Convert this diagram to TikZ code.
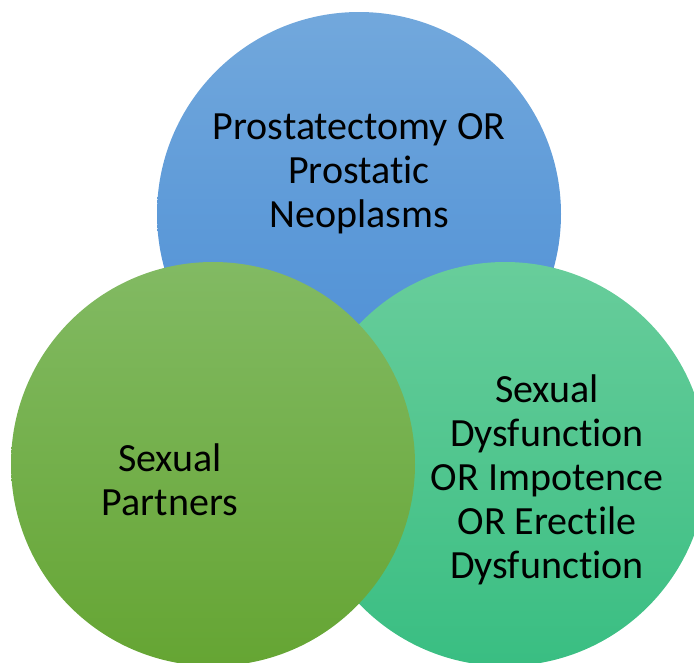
\documentclass[tikz,border=0pt]{standalone}
\usepackage{fontspec}
\setmainfont[Ligatures={NoCommon,NoRare,NoDiscretionary}]{Carlito}
\definecolor{bluetop}{HTML}{72A8DC}
\definecolor{bluebot}{HTML}{4A8DD5}
\definecolor{greentop}{HTML}{82BA63}
\definecolor{greenbot}{HTML}{65A533}
\definecolor{tealtop}{HTML}{68CD9B}
\definecolor{tealbot}{HTML}{39BE82}
\begin{document}
\begin{tikzpicture}[x=1pt,y=-1pt,
  venn/.style={circle,draw=none,inner sep=0pt,minimum size=404pt},
  lbl/.style={align=center,font=\fontsize{40}{44}\selectfont,text=black,inner sep=0pt}]
\useasboundingbox (0,0) rectangle (694,662);
\clip (0,0) rectangle (694,662);
\node[venn,top color=bluetop,bottom color=bluebot] (blue) at (359,214) {};
\node[venn,top color=tealtop,bottom color=tealbot] (teal) at (505,464) {};
\node[venn,top color=greentop,bottom color=greenbot] (green) at (213,464) {};
\node[lbl] (tblue) at (359,174) {Prostatectomy OR\\Prostatic\\Neoplasms};
\node[lbl] (tgreen) at (170,480) {Sexual\\Partners};
\node[lbl] (tteal) at (547,480) {Sexual\\Dysfunction\\OR Impotence\\OR Erectile\\Dysfunction};
\end{tikzpicture}
\end{document}
